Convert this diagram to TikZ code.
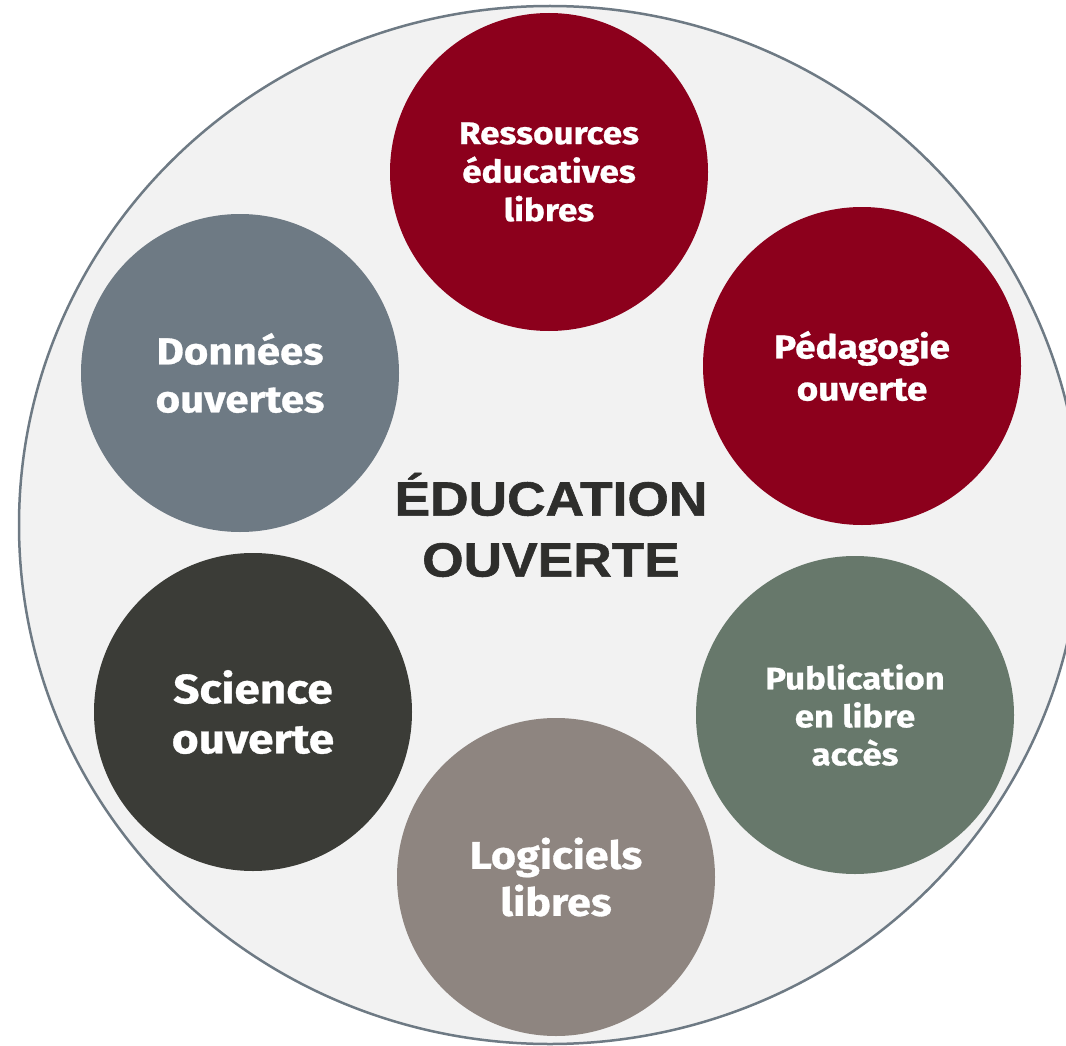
\documentclass[tikz,border=0pt]{standalone}
\usepackage{fontspec}
\newfontfamily\circfont[FakeStretch=1.12,FakeBold=0.8]{Fira Sans}
\newfontfamily\centfont[FakeStretch=1.11,FakeBold=1.2]{Liberation Sans}
\definecolor{bgfill}{HTML}{F2F2F2}
\definecolor{ringline}{HTML}{6E7A84}
\definecolor{redc}{HTML}{8C001C}
\definecolor{slatec}{HTML}{6E7A84}
\definecolor{darkc}{HTML}{3B3C37}
\definecolor{greenc}{HTML}{67786B}
\definecolor{taupec}{HTML}{8E8580}
\definecolor{centtext}{HTML}{2E2E2C}
\tikzset{
  bubble/.style={circle, minimum size=318pt, inner sep=0pt, text=white, align=center}
}
\begin{document}
\begin{tikzpicture}[x=1pt,y=-1pt]
\useasboundingbox (0,0) rectangle (1066,1046);
\clip (0,0) rectangle (1066,1046);
\draw[fill=bgfill, draw=ringline, line width=2.5pt] (550,525) ellipse [x radius=531, y radius=519];
\node[bubble, fill=redc, font=\circfont\bfseries\fontsize{31.3}{38.5}\selectfont] (reb) at (549,172) {Ressources\\éducatives\\libres};
\node[bubble, fill=redc, font=\circfont\bfseries\fontsize{33}{42}\selectfont] (ped) at (862,366) {Pédagogie\\ouverte};
\node[bubble, fill=slatec, font=\circfont\bfseries\fontsize{37.5}{48}\selectfont] (don) at (240,373) {Données\\ouvertes};
\node[bubble, fill=darkc, font=\circfont\bfseries\fontsize{41}{50}\selectfont] (sci) at (253,712) {Science\\ouverte};
\node[bubble, fill=greenc, font=\circfont\bfseries\fontsize{31}{38}\selectfont] (pub) at (855,715) {Publication\\en libre\\accès};
\node[bubble, fill=taupec, font=\circfont\bfseries\fontsize{38.5}{47}\selectfont] (log) at (556,877) {Logiciels\\libres};
\node[text=centtext, align=center, font=\centfont\bfseries\fontsize{48}{61}\selectfont] (edu) at (551,525) {ÉDUCATION\\OUVERTE};
\end{tikzpicture}
\end{document}
